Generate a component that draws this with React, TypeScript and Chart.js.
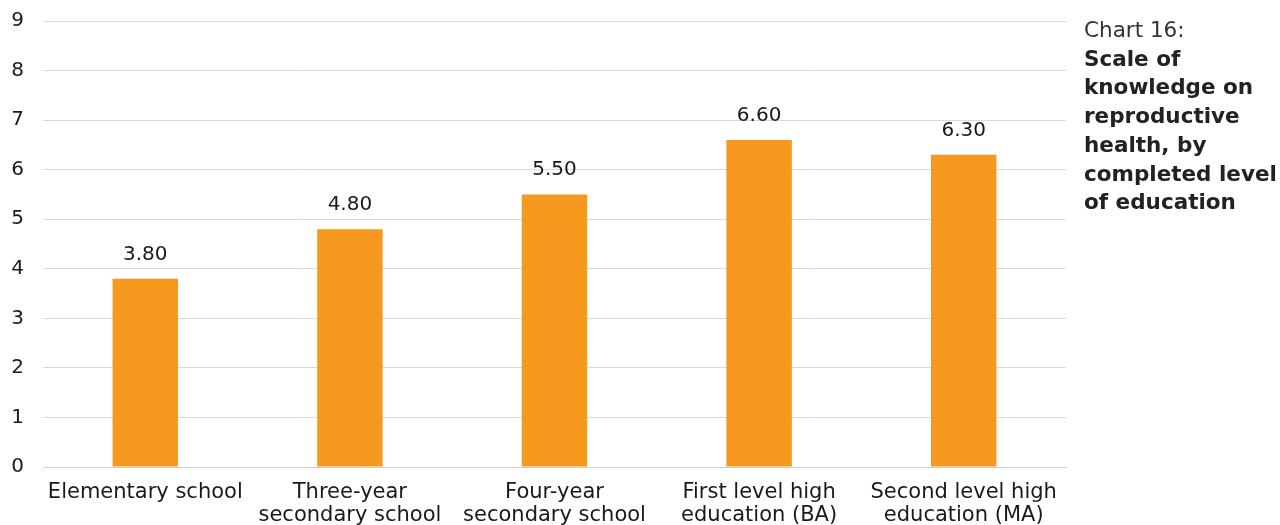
import React, { useEffect, useRef } from "react";
import { Chart, registerables } from "chart.js";

Chart.register(...registerables);

const categories: (string | string[])[] = [
  "Elementary school",
  ["Three-year", "secondary school"],
  ["Four-year", "secondary school"],
  ["First level high", "education (BA)"],
  ["Second level high", "education (MA)"],
];
const knowledgeScores = [3.8, 4.8, 5.5, 6.6, 6.3];
const yTicks = [0, 1, 2, 3, 4, 5, 6, 7, 8, 9];

const FONT = "'DejaVu Sans', sans-serif";
const BAR_COLOR = "#F7981F";
const TEXT_COLOR = "#1a1a1a";

const CANVAS_W = 1280;
const CANVAS_H = 560;
const PLOT_TOP = 21;
const PLOT_BOTTOM = 467;
const PLOT_LEFT = 43;
const PLOT_RIGHT = 1066;

// Writes each bar's value two decimals above its top edge
const valueLabels = {
  id: "valueLabels",
  afterDatasetsDraw(chart: any) {
    const { ctx } = chart;
    const meta = chart.getDatasetMeta(0);
    ctx.save();
    ctx.font = `20px ${FONT}`;
    ctx.fillStyle = TEXT_COLOR;
    ctx.textAlign = "center";
    ctx.textBaseline = "alphabetic";
    meta.data.forEach((bar: any, i: number) => {
      const v = chart.data.datasets[0].data[i] as number;
      ctx.fillText(v.toFixed(2), bar.x, bar.y - 19);
    });
    ctx.restore();
  },
};

export default function App() {
  const ref = useRef<HTMLCanvasElement>(null);

  useEffect(() => {
    if (!ref.current) return;
    const chart = new Chart(ref.current, {
      type: "bar",
      data: {
        labels: categories,
        datasets: [
          {
            data: knowledgeScores,
            backgroundColor: BAR_COLOR,
            barPercentage: 0.64,
            categoryPercentage: 0.5,
          },
        ],
      },
      options: {
        responsive: false,
        animation: false,
        layout: { padding: { left: 0, right: CANVAS_W - PLOT_RIGHT, top: PLOT_TOP, bottom: 0 } },
        plugins: {
          legend: { display: false },
          tooltip: { enabled: false },
          title: { display: false },
        },
        scales: {
          x: {
            grid: { display: false, drawTicks: false },
            border: { display: true, color: "#cfcfcf", width: 1 },
            ticks: {
              color: TEXT_COLOR,
              font: { family: FONT, size: 21, lineHeight: 1.1 },
              padding: 14,
              maxRotation: 0,
              autoSkip: false,
            },
            afterFit(scale: any) {
              scale.height = CANVAS_H - PLOT_BOTTOM;
              scale.paddingLeft = 0;
              scale.paddingRight = 0;
            },
          },
          y: {
            min: 0,
            max: 9,
            afterBuildTicks(scale: any) {
              scale.ticks = yTicks.map((v) => ({ value: v }));
            },
            grid: { color: "#d9d9d9", drawTicks: false, lineWidth: 1 },
            border: { display: false },
            ticks: {
              color: TEXT_COLOR,
              font: { family: FONT, size: 20 },
              padding: 19,
            },
            afterFit(scale: any) {
              scale.width = PLOT_LEFT;
              scale.paddingTop = 0;
              scale.paddingBottom = 0;
            },
          },
        },
      },
      plugins: [valueLabels],
    });
    return () => chart.destroy();
  }, []);

  return (
    <div style={{ position: "fixed", left: 0, top: 0, width: 1280, height: 525, overflow: "hidden", background: "#fff" }}>
      <canvas ref={ref} width={CANVAS_W} height={CANVAS_H} style={{ display: "block" }} />
      <div
        style={{
          position: "absolute",
          left: 1084,
          top: 16,
          fontFamily: FONT,
          fontSize: 21.5,
          lineHeight: "28.7px",
          color: "#222",
        }}
      >
        <div style={{ color: "#333" }}>Chart 16:</div>
        <div style={{ fontWeight: "bold" }}>
          Scale of
          <br />
          knowledge on
          <br />
          reproductive
          <br />
          health, by
          <br />
          completed level
          <br />
          of education
        </div>
      </div>
    </div>
  );
}
